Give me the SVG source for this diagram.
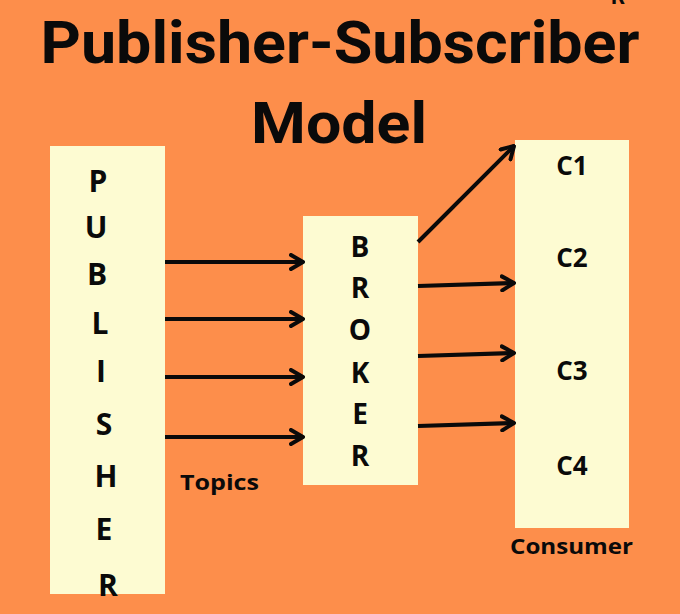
<svg xmlns="http://www.w3.org/2000/svg" width="680" height="614" viewBox="0 0 680 614">
<defs>
<style>
.box{fill:#FDFBD2}
.lt{font-family:"Open Sans","DejaVu Sans",sans-serif;font-weight:700;fill:#0a0a0a;text-anchor:middle}
.ttl{font-family:Roboto,"Liberation Sans",sans-serif;font-weight:700;fill:#0a0a0a;text-anchor:middle}
.cn{stroke:#0a0a0a;stroke-width:4;fill:none;marker-end:url(#ah)}
</style>
<marker id="ah" viewBox="0 0 16 18" refX="14" refY="9" markerWidth="16" markerHeight="18" markerUnits="userSpaceOnUse" orient="auto">
<path d="M2,2 L14,9 L2,16" fill="none" stroke="#0a0a0a" stroke-width="4" stroke-linejoin="round" stroke-linecap="round"/>
</marker>
</defs>
<rect width="680" height="614" fill="#FD8E4B"/>
<text class="ttl" x="618" y="4" font-size="22">R</text>
<g id="title">
<text class="ttl" x="340" y="63" font-size="60" textLength="599" lengthAdjust="spacingAndGlyphs">Publisher-Subscriber</text>
<text class="ttl" x="339" y="143" font-size="57" textLength="176" lengthAdjust="spacingAndGlyphs">Model</text>
</g>
<g id="publisher">
<rect class="box" x="50" y="146" width="115" height="448"/>
<g class="lt" font-size="30">
<text x="98" y="192">P</text>
<text x="96" y="238">U</text>
<text x="97" y="285">B</text>
<text x="100" y="334">L</text>
<text x="101" y="382">I</text>
<text x="104" y="435">S</text>
<text x="106" y="487">H</text>
<text x="104" y="540">E</text>
<text x="108" y="596">R</text>
</g>
</g>
<g id="broker">
<rect class="box" x="303" y="216" width="115" height="269"/>
<g class="lt" font-size="28">
<text x="360" y="257">B</text>
<text x="360" y="298">R</text>
<text x="360" y="340">O</text>
<text x="360" y="383">K</text>
<text x="360" y="424">E</text>
<text x="360" y="466">R</text>
</g>
</g>
<g id="consumer">
<rect class="box" x="515" y="140" width="114" height="388"/>
<g class="lt" font-size="26">
<text x="572" y="175">C1</text>
<text x="572" y="267">C2</text>
<text x="572" y="380">C3</text>
<text x="572" y="475">C4</text>
</g>
</g>
<g id="labels">
<text class="lt" x="219.5" y="490" font-size="22" textLength="79" lengthAdjust="spacingAndGlyphs">Topics</text>
<text class="lt" x="571.5" y="554" font-size="22" textLength="123" lengthAdjust="spacingAndGlyphs">Consumer</text>
</g>
<g id="connectors">
<line class="cn" x1="165" y1="262" x2="303" y2="262"/>
<line class="cn" x1="165" y1="319" x2="303" y2="319"/>
<line class="cn" x1="165" y1="377" x2="303" y2="377"/>
<line class="cn" x1="165" y1="437" x2="303" y2="437"/>
<line class="cn" x1="418" y1="242" x2="514" y2="146"/>
<line class="cn" x1="418" y1="286" x2="514" y2="283"/>
<line class="cn" x1="418" y1="356" x2="514" y2="353"/>
<line class="cn" x1="418" y1="426" x2="514" y2="423"/>
</g>
</svg>
